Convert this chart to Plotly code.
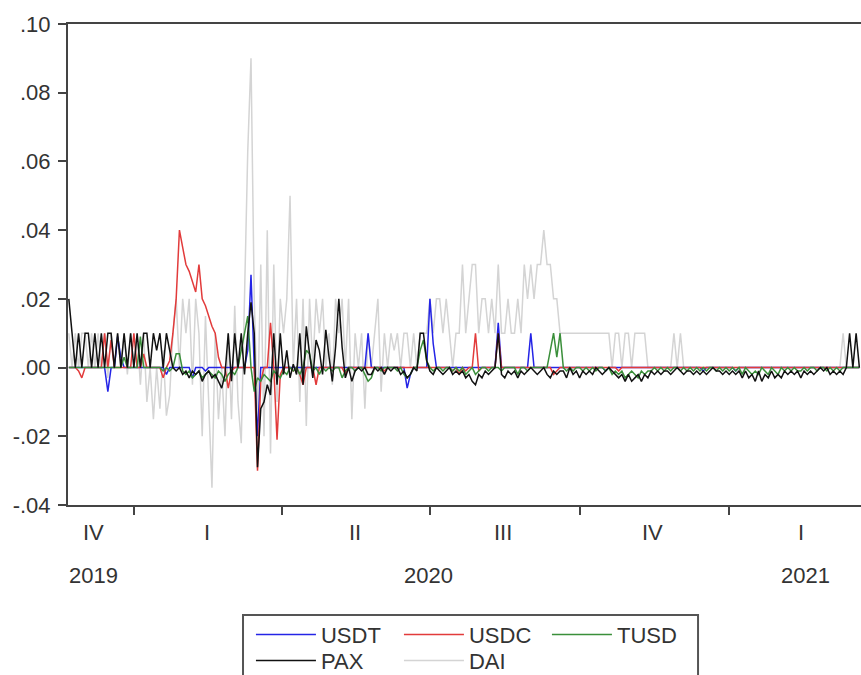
import pandas as pd
import plotly.graph_objects as go

# ---- data (values every 2 days, starting 2019-11-22) ----
START = "2019-11-22"

USDT = [
    0, 0, 0, 0, 0, 0, 0, 0, 0, 0,
    0, 0, -.007, 0, 0, .009, .003, 0, 0, 0,
    0, 0, 0, 0, 0, 0, 0, 0, 0, 0,
    -.002, 0, 0, 0, 0, 0, 0, 0, -.003, 0,
    0, 0, -.001, 0, 0, 0, 0, 0, 0, 0,
    0, 0, 0, 0, 0, .005, .027, 0, -.02, 0,
    0, 0, 0, 0, 0, 0, 0, 0, 0, 0,
    0, 0, 0, 0, 0, 0, 0, 0, 0, 0,
    0, 0, 0, 0, 0, 0, 0, 0, 0, 0,
    0, 0, .01, 0, 0, 0, 0, 0, 0, 0,
    0, 0, 0, 0, -.006, -.002, 0, 0, 0, 0,
    0, .02, .007, 0, 0, 0, 0, 0, 0, 0,
    0, 0, 0, 0, 0, 0, 0, 0, 0, 0,
    0, 0, .013, 0, 0, 0, 0, 0, 0, 0,
    0, 0, .01, 0, 0, 0, 0, 0, 0, 0,
    0, 0, 0, 0, 0, 0, 0, 0, 0, 0,
    0, 0, 0, 0, 0, -.001, 0, 0, 0, 0,
    0, 0, 0, 0, 0, 0, 0, 0, 0, 0,
    0, 0, 0, 0, 0, 0, 0, 0, 0, 0,
    0, 0, 0, 0, 0, -.001, 0, 0, 0, 0,
    0, 0, 0, 0, 0, -.001, 0, 0, 0, 0,
    0, 0, 0, 0, 0, 0, 0, 0, 0, 0,
    0, 0, 0, 0, 0, 0, 0, 0, 0, 0,
    0, 0, 0, 0, 0, 0, 0, 0, 0, 0,
    0, 0, 0, 0,
]

USDC = [
    0, 0, 0, -.001, -.003, 0, 0, 0, 0, 0,
    0, .01, 0, .008, 0, 0, 0, 0, 0, 0,
    .01, 0, 0, .004, 0, 0, 0, 0, 0, -.003,
    0, .002, .01, .02, .04, .035, .03, .028, .025, .022,
    .03, .02, .018, .015, .012, .01, .003, 0, 0, -.006,
    -.001, 0, 0, 0, 0, 0, 0, 0, -.03, -.004,
    0, 0, .013, 0, -.021, -.002, 0, 0, 0, -.001,
    0, -.002, -.005, 0, 0, 0, -.005, 0, 0, 0,
    0, 0, 0, 0, 0, -.002, 0, 0, 0, 0,
    0, 0, 0, 0, 0, 0, 0, -.001, 0, 0,
    0, 0, 0, 0, 0, 0, 0, 0, 0, 0,
    0, 0, 0, 0, 0, 0, 0, 0, -.001, 0,
    -.002, 0, -.001, 0, 0, .01, -.001, 0, 0, 0,
    0, 0, .01, 0, 0, 0, 0, 0, 0, 0,
    0, 0, 0, 0, 0, 0, 0, 0, 0, -.002,
    -.001, 0, 0, 0, 0, 0, 0, 0, 0, 0,
    0, 0, 0, 0, 0, 0, 0, 0, 0, -.001,
    0, 0, 0, 0, 0, 0, 0, 0, 0, 0,
    0, 0, 0, 0, 0, 0, 0, 0, 0, 0,
    0, 0, 0, 0, 0, 0, 0, 0, 0, 0,
    0, 0, 0, 0, 0, 0, 0, 0, 0, 0,
    0, 0, 0, 0, 0, 0, 0, 0, 0, 0,
    0, 0, 0, 0, 0, 0, 0, 0, 0, 0,
    0, 0, 0, 0, 0, 0, 0, 0, 0, 0,
    0, 0, 0, 0,
]

TUSD = [
    0, 0, 0, 0, 0, 0, 0, 0, 0, 0,
    0, 0, 0, 0, 0, 0, 0, .003, 0, 0,
    0, 0, .009, 0, 0, 0, 0, 0, 0, -.001,
    0, -.001, 0, .004, .004, -.001, -.002, -.001, -.003, -.002,
    -.001, -.003, -.002, -.001, -.002, -.003, -.001, -.002, -.004, -.002,
    -.001, -.002, 0, .005, .01, .015, 0, -.007, -.003, -.004,
    -.002, -.003, -.004, -.001, -.002, -.003, -.001, -.002, 0, -.001,
    0, -.002, 0, .005, .004, -.001, 0, -.002, 0, -.001,
    0, -.001, 0, 0, -.003, -.001, 0, 0, -.001, 0,
    0, -.002, -.004, -.003, 0, 0, -.001, 0, 0, 0,
    0, -.001, 0, -.002, -.003, -.002, 0, 0, .005, .008,
    .002, 0, -.001, 0, 0, -.001, 0, 0, -.001, 0,
    -.001, 0, -.002, -.001, 0, -.002, -.001, 0, 0, -.001,
    0, 0, 0, -.001, 0, 0, 0, 0, -.002, 0,
    0, -.001, 0, 0, 0, 0, 0, 0, .005, .01,
    .003, .01, 0, -.001, 0, -.001, 0, 0, -.001, 0,
    -.001, 0, -.001, 0, 0, -.001, 0, -.002, -.001, -.002,
    -.001, -.003, -.002, -.001, -.002, -.003, -.001, -.002, -.001, -.001,
    0, -.001, 0, -.001, 0, -.001, 0, 0, -.001, 0,
    -.001, 0, -.001, 0, -.001, 0, -.001, 0, 0, -.001,
    0, -.001, 0, -.001, 0, -.001, 0, -.002, 0, -.001,
    -.002, -.001, -.002, 0, -.001, -.002, 0, -.001, -.002, 0,
    -.001, 0, -.001, 0, -.001, -.001, 0, -.001, 0, 0,
    -.001, 0, 0, -.001, 0, -.001, 0, -.001, 0, 0,
    0, 0, 0, 0,
]

PAX = [
    .02, .01, 0, .01, 0, .01, .01, 0, .01, 0,
    .01, 0, .01, .01, 0, .01, 0, .01, 0, .01,
    0, .01, 0, .01, .01, 0, .01, .005, .01, 0,
    .01, .005, 0, -.001, 0, -.002, -.001, -.003, -.001, -.002,
    -.001, -.004, -.002, -.001, -.003, -.002, -.004, -.006, -.002, .01,
    -.004, .01, 0, .01, -.002, .01, .019, .01, -.029, -.012,
    -.01, -.005, -.008, .01, -.005, .01, -.002, .005, -.003, .001,
    -.002, .01, -.005, .012, .004, -.003, .008, .005, -.002, .011,
    .003, -.004, .006, .02, .006, -.003, 0, -.004, -.001, 0,
    -.001, 0, -.002, -.002, 0, -.001, 0, -.002, 0, -.001,
    0, 0, -.002, -.001, -.003, -.002, 0, -.001, .01, .01,
    .002, -.001, -.002, 0, -.001, -.002, -.001, 0, -.002, -.001,
    -.002, -.001, -.003, -.002, -.004, -.005, -.002, -.003, -.001, -.002,
    -.001, 0, .01, -.002, -.003, -.001, -.002, -.001, -.003, -.001,
    -.002, -.001, 0, -.001, -.002, -.001, 0, -.002, -.003, -.001,
    -.002, -.001, -.001, -.003, 0, -.002, -.001, -.003, -.001, -.002,
    -.001, -.002, 0, -.001, -.002, -.001, 0, -.001, -.002, -.003,
    -.002, -.004, -.002, -.004, -.003, -.002, -.004, -.002, -.003, -.001,
    -.002, -.001, -.002, -.001, -.001, -.002, -.001, 0, -.001, -.002,
    -.001, -.001, -.002, -.001, -.002, -.001, -.002, -.001, 0, -.001,
    -.001, -.002, -.001, -.002, -.001, -.002, -.001, -.003, -.001, -.003,
    -.002, -.004, -.001, -.004, -.002, -.003, -.001, -.003, -.002, -.003,
    -.001, -.002, -.001, -.002, -.001, -.003, -.001, -.002, -.001, -.002,
    -.001, 0, -.001, 0, -.002, -.001, -.002, -.001, -.002, 0,
    .01, 0, .01, 0,
]

DAI = [
    .01, 0, .01, 0, .01, .01, 0, .01, 0, .01,
    0, .01, -.003, .01, 0, .01, 0, .01, -.002, .01,
    0, .01, -.005, .01, -.01, 0, -.015, 0, -.012, .005,
    -.014, -.008, .01, .02, 0, .02, .01, .02, -.005, .02,
    .01, -.02, .015, -.01, -.035, .01, -.015, 0, -.02, .01,
    -.015, .018, -.01, -.022, .02, .063, .09, .02, -.015, .03,
    -.02, .04, -.025, .03, -.01, .02, .01, .02, .05, 0,
    .02, -.01, .02, -.017, .02, 0, .02, .01, .02, 0,
    .01, -.005, .02, .01, .02, 0, .02, -.015, .01, 0,
    .01, -.012, .01, 0, .01, .02, -.007, .01, 0, .01,
    .005, .01, 0, .01, .01, 0, .01, 0, .01, .01,
    .01, .02, .01, .02, .02, .01, .02, .01, 0, .01,
    .01, .03, .01, .02, .03, .03, .01, .02, .02, .01,
    .02, .01, .03, .01, .01, .02, .01, .01, .02, .01,
    .03, .02, .03, .02, .03, .03, .04, .03, .03, .02,
    .02, .01, .01, .01, .01, .01, .01, .01, .01, .01,
    .01, .01, .01, .01, .01, .01, .01, 0, .01, .01,
    0, .01, .01, 0, .01, .01, .01, .01, 0, 0,
    0, 0, 0, 0, 0, 0, .01, 0, .01, 0,
    0, 0, 0, 0, 0, 0, 0, 0, 0, 0,
    0, 0, 0, 0, 0, 0, 0, 0, 0, 0,
    0, 0, 0, 0, 0, 0, 0, 0, 0, 0,
    0, 0, 0, 0, 0, 0, 0, 0, 0, 0,
    0, 0, 0, 0, 0, 0, 0, 0, .01, 0,
    0, 0, 0, 0,
]

Y_TICKS = [0.10, 0.08, 0.06, 0.04, 0.02, 0.00, -0.02, -0.04]
Y_LABELS = [".10", ".08", ".06", ".04", ".02", ".00", "-.02", "-.04"]
Q_BOUNDS = ["2020-01-01", "2020-04-01", "2020-07-01", "2020-10-01", "2021-01-01"]
Q_LABEL_DATES = ["2019-12-07", "2020-02-15", "2020-05-16", "2020-08-15", "2020-11-15", "2021-02-14"]
Q_LABELS = ["IV", "I", "II", "III", "IV", "I"]
YEAR_DATES = ["2019-12-07", "2020-06-30", "2021-02-17"]
YEAR_LABELS = ["2019", "2020", "2021"]

dates = pd.date_range(start=START, periods=len(DAI), freq="2D")

FONT = "Liberation Sans, Arial, sans-serif"
TXT = "#333333"
AX = "#444444"

series = [
    # name, values, color, legend, rank  (drawing order: first is at the back)
    ("DAI", DAI, "#d4d4d4", "legend2", 5),
    ("USDT", USDT, "#2424e6", "legend", 1),
    ("USDC", USDC, "#e23b3b", "legend", 2),
    ("TUSD", TUSD, "#3a8f3a", "legend", 3),
    ("PAX", PAX, "#111111", "legend2", 4),
]

fig = go.Figure()
for name, vals, col, leg, rank in series:
    fig.add_trace(go.Scatter(
        x=dates, y=vals, mode="lines", name=name,
        line=dict(color=col, width=1.5),
        legend=leg, legendrank=rank,
    ))

for d, t in zip(Q_LABEL_DATES, Q_LABELS):
    fig.add_annotation(x=d, y=-0.058, xref="x", yref="paper", text=t, showarrow=False,
                       font=dict(family=FONT, size=22, color=TXT), yanchor="middle")
for d, t in zip(YEAR_DATES, YEAR_LABELS):
    fig.add_annotation(x=d, y=-0.146, xref="x", yref="paper", text=t, showarrow=False,
                       font=dict(family=FONT, size=22, color=TXT), yanchor="middle")

# legend frame
fig.add_shape(type="rect", xref="paper", yref="paper",
              x0=0.2207, x1=0.7945, y0=-0.2287, y1=-0.40,
              line=dict(color="#555555", width=2), fillcolor="rgba(0,0,0,0)", layer="above")

leg_common = dict(orientation="h", xanchor="left", yanchor="top",
                  font=dict(family=FONT, size=22, color=TXT),
                  bgcolor="rgba(0,0,0,0)", borderwidth=0,
                  entrywidth=73, entrywidthmode="pixels", itemwidth=60,
                  traceorder="normal")

fig.update_layout(
    width=861, height=675,
    margin=dict(l=68, r=0, t=24, b=170, autoexpand=False),
    paper_bgcolor="white", plot_bgcolor="white",
    showlegend=True,
    legend=dict(x=0.2307, y=-0.226, **leg_common),
    legend2=dict(x=0.2307, y=-0.280, **leg_common),
    xaxis=dict(
        type="date", range=["2019-11-21 12:00", "2021-03-23"],
        showline=True, linecolor=AX, linewidth=2, mirror=True,
        tickvals=Q_BOUNDS, ticktext=[""] * len(Q_BOUNDS),
        ticks="outside", ticklen=8, tickwidth=2, tickcolor=AX,
        showgrid=False, zeroline=False,
    ),
    yaxis=dict(
        range=[-0.04, 0.10], tickvals=Y_TICKS, ticktext=Y_LABELS,
        showline=True, linecolor=AX, linewidth=2,
        ticks="outside", ticklen=8, tickwidth=2, tickcolor=AX,
        tickfont=dict(family=FONT, size=22, color=TXT),
        showgrid=False, zeroline=False, ticklabelstandoff=3,
    ),
)

fig.write_html("out.html")
